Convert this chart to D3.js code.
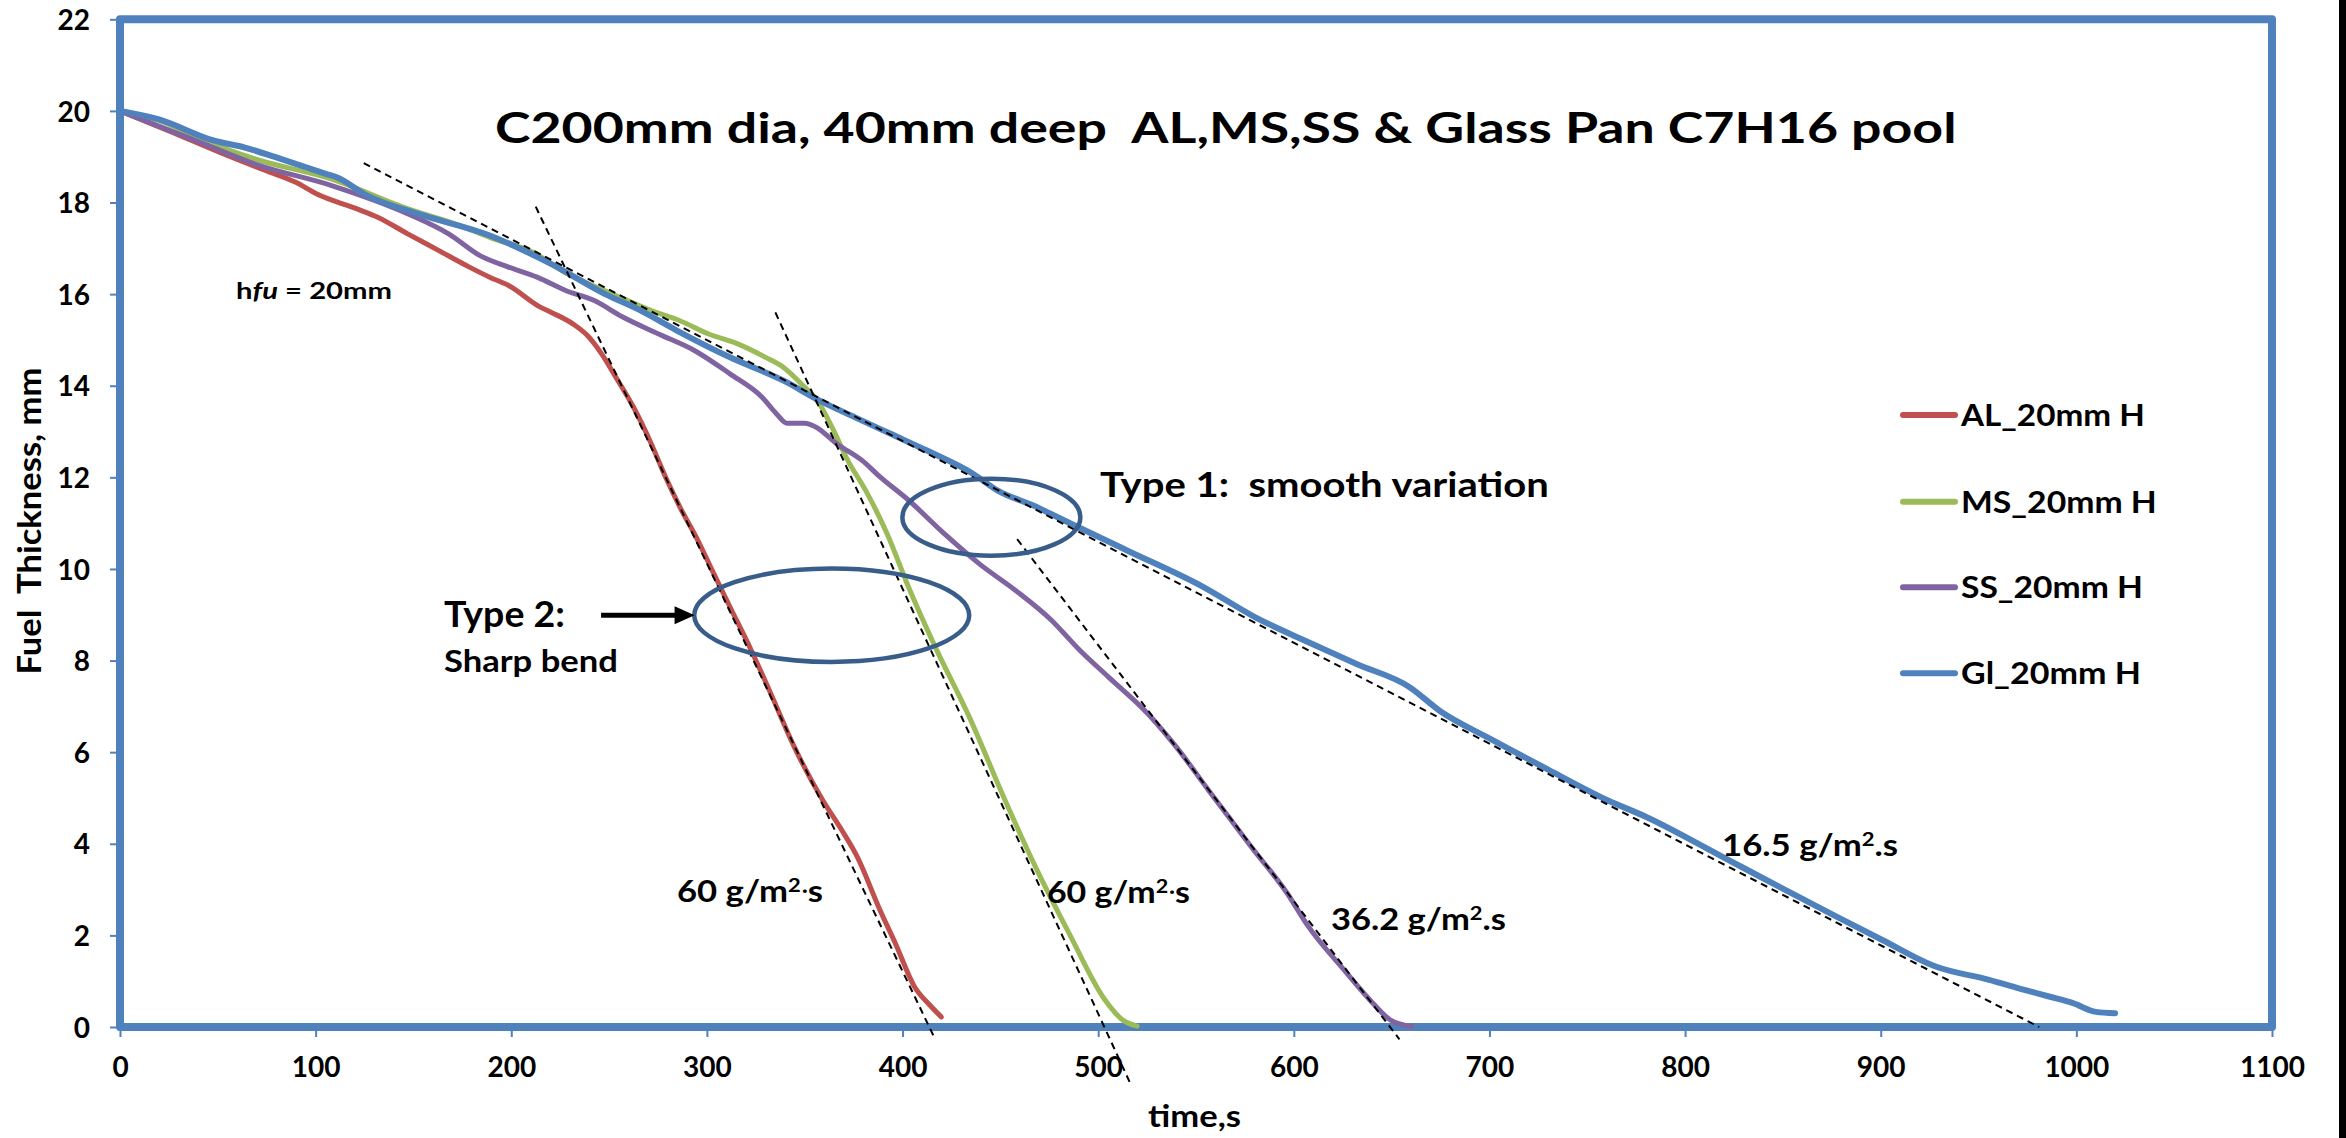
<!DOCTYPE html>
<html>
<head>
<meta charset="utf-8">
<script src="https://cdn.jsdelivr.net/npm/d3@7"></script>
<style>
  html, body { margin: 0; padding: 0; background: #fff; }
  svg { display: block; }
  text { font-family: Lato, "Open Sans", "Liberation Sans", sans-serif; font-weight: 700; fill: #000; }
</style>
</head>
<body>
<script>
// ---- axis ticks ----
const xTicks = [0, 100, 200, 300, 400, 500, 600, 700, 800, 900, 1000, 1100];
const yTicks = [0, 2, 4, 6, 8, 10, 12, 14, 16, 18, 20, 22];

// ---- burning curves: time (s) and fuel thickness (mm) ----
const alTime  = [0, 24.7, 50.8, 74.3, 89.9, 100.4, 121.2, 131.7, 147.3, 163, 178.6, 189, 198.6, 215.1, 220.5, 231.5, 238.8, 246.1, 253.4, 262.5, 271.6, 278.9, 286.2, 295.4, 302.7, 311.8, 322.7, 331.9, 344.7, 359.2, 368.9, 376.8, 388.5, 396.3, 406.1, 413.9, 419.8];
const alThick = [20, 19.57, 19.1, 18.7, 18.44, 18.19, 17.86, 17.68, 17.31, 16.95, 16.59, 16.37, 16.19, 15.71, 15.6, 15.35, 15.1, 14.7, 14.19, 13.53, 12.73, 12.0, 11.35, 10.62, 9.97, 9.17, 8.22, 7.35, 6.11, 4.95, 4.3, 3.72, 2.55, 1.83, 0.88, 0.48, 0.22];

const msTime  = [0, 19.5, 42.9, 69, 108.2, 147.3, 173.4, 189, 212.5, 226, 253.4, 271.6, 286.2, 300.9, 315.4, 330, 339.2, 348.3, 357.4, 364.8, 372, 381.2, 392.1, 403.1, 415.9, 434.1, 452.4, 468.8, 485.2, 503.5, 512.6, 519.9];
const msThick = [20, 19.8, 19.35, 18.95, 18.51, 17.86, 17.5, 17.24, 16.88, 16.51, 15.97, 15.64, 15.42, 15.13, 14.92, 14.62, 14.4, 14.04, 13.61, 13.02, 12.37, 11.71, 10.77, 9.6, 8.37, 6.77, 4.95, 3.42, 2.04, 0.59, 0.15, 0.02];

const ssTime  = [0, 42.9, 69, 108.2, 147.3, 168.2, 184, 198.6, 213.2, 227.8, 242.4, 257, 275.3, 293.6, 311.8, 328.2, 335.5, 341, 350.1, 355.6, 366.5, 379.3, 388.5, 403.1, 421.3, 439.6, 457.8, 476.1, 490.7, 505.3, 525.4, 540, 556.4, 578.3, 596.6, 607.5, 625.8, 640.4, 649.5, 660.4];
const ssThick = [20, 19.28, 18.84, 18.37, 17.75, 17.31, 16.84, 16.59, 16.37, 16.08, 15.86, 15.5, 15.13, 14.77, 14.26, 13.75, 13.39, 13.18, 13.18, 13.1, 12.73, 12.37, 12.01, 11.5, 10.77, 10.1, 9.53, 8.88, 8.22, 7.64, 6.84, 6.11, 5.17, 3.93, 2.92, 2.19, 1.24, 0.52, 0.15, 0.01];

const glTime  = [0, 19.5, 48.2, 63.8, 79.5, 95.1, 105.6, 110.8, 126.4, 152.5, 189, 220.3, 248, 266.2, 284.4, 311.8, 339.2, 357.4, 375.7, 393.9, 412.2, 436, 448.7, 468.8, 475.4, 514.5, 553.6, 580.1, 607.5, 631.8, 659.2, 674.7, 700, 730, 760.4, 779.9, 818.9, 838.4, 877.4, 900.8, 928.1, 955.4, 971, 986.5, 998.3, 1010, 1019.8];
const glThick = [20, 19.82, 19.35, 19.2, 18.99, 18.77, 18.62, 18.55, 18.15, 17.75, 17.28, 16.66, 16.0, 15.64, 15.21, 14.62, 14.11, 13.68, 13.31, 12.95, 12.59, 12.08, 11.71, 11.35, 11.21, 10.41, 9.61, 8.95, 8.4, 7.93, 7.42, 6.9, 6.3, 5.62, 4.95, 4.59, 3.72, 3.28, 2.41, 1.9, 1.32, 1.03, 0.84, 0.66, 0.52, 0.33, 0.3];

const seriesNames = ["AL_20mm H", "MS_20mm H", "SS_20mm H", "Gl_20mm H"];

// ---- dashed tangent lines [time, thickness] ----
const tangentStart = [[124.6, 18.86], [212.5, 17.91], [335, 15.6], [458.6, 10.65]];
const tangentEnd   = [[981, 0], [416.7, -0.27], [516.4, -1.23], [654, -0.27]];

// ---- burning-rate labels ----
const rateValues = ["60", "60", "36.2", "16.5"];
const rateSeps   = ["·", "·", ".", "."];

// ---- styling ----
const colors = ["#C0504D", "#9BBB59", "#8064A2", "#4F81BD"];
const frameBlue = "#4F81BD";
const shapeBlue = "#385D8A";

const W = 2346, H = 1138;
const svg = d3.select("body").append("svg").attr("width", W).attr("height", H);
svg.append("rect").attr("width", W).attr("height", H).attr("fill", "#fff");

const x = d3.scaleLinear().domain([0, 1100]).range([120, 2272]);
const y = d3.scaleLinear().domain([0, 22]).range([1027, 19.3]);

// stretch/squeeze a text horizontally about its left edge so it spans w pixels
function fitWidth(sel, x0, w) {
  const bw = sel.node().getBBox().width;
  const k = w / bw;
  sel.attr("transform", `translate(${x0},0) scale(${k},1) translate(${-x0},0)`);
  return sel;
}

// ---- axes ----
const xAxis = d3.axisBottom(x).tickValues(xTicks).tickSize(10).tickPadding(22).tickFormat(d3.format("d"));
const yAxis = d3.axisLeft(y).tickValues(yTicks).tickSize(10).tickPadding(20).tickFormat(d3.format("d"));

const gx = svg.append("g").attr("transform", `translate(0,${y(0)})`).call(xAxis);
const gy = svg.append("g").attr("transform", `translate(${x(0)},0)`).call(yAxis);
[gx, gy].forEach(g => {
  g.select(".domain").remove();
  g.selectAll(".tick line").attr("stroke", frameBlue).attr("stroke-width", 2);
  g.selectAll(".tick text").style("font-family", "Lato, sans-serif").style("font-weight", 700)
    .style("font-size", "28px").attr("fill", "#000");
});
gx.selectAll(".tick text").attr("dy", null).attr("y", 50);
gy.selectAll(".tick text").attr("dy", "0.36em");

// plot frame
svg.append("rect")
  .attr("x", x(0)).attr("y", y(22))
  .attr("width", x(1100) - x(0)).attr("height", y(0) - y(22))
  .attr("fill", "none").attr("stroke", frameBlue).attr("stroke-width", 8)
  .attr("stroke-linejoin", "round");

// ---- series ----
const series = [
  { name: seriesNames[0], t: alTime, h: alThick },
  { name: seriesNames[1], t: msTime, h: msThick },
  { name: seriesNames[2], t: ssTime, h: ssThick },
  { name: seriesNames[3], t: glTime, h: glThick }
];
const line = d3.line().x(d => x(d[0])).y(d => y(d[1])).curve(d3.curveMonotoneX);
series.forEach((s, i) => {
  svg.append("path")
    .datum(s.t.map((t, j) => [t, s.h[j]]))
    .attr("d", line)
    .attr("fill", "none")
    .attr("stroke", colors[i])
    .attr("stroke-width", i === 3 ? 6 : 5)
    .attr("stroke-linecap", "round")
    .attr("stroke-linejoin", "round");
});

// ---- dashed tangent lines ----
tangentStart.forEach((p, i) => {
  const q = tangentEnd[i];
  svg.append("line")
    .attr("x1", x(p[0])).attr("y1", y(p[1]))
    .attr("x2", x(q[0])).attr("y2", y(q[1]))
    .attr("stroke", "#000").attr("stroke-width", 2)
    .attr("stroke-dasharray", "7,5");
});

// ---- ellipses marking the two behaviours ----
svg.append("ellipse")
  .attr("cx", x(445.4)).attr("cy", y(11.13)).attr("rx", 89).attr("ry", 38.5)
  .attr("fill", "none").attr("stroke", shapeBlue).attr("stroke-width", 4.5);
svg.append("ellipse")
  .attr("cx", x(363.8)).attr("cy", y(8.99)).attr("rx", 137.5).attr("ry", 46.7)
  .attr("fill", "none").attr("stroke", shapeBlue).attr("stroke-width", 4.5);

// arrow pointing at the sharp-bend ellipse
const ay = y(8.99), ax0 = x(245.9), ax1 = x(293.7);
svg.append("line").attr("x1", ax0).attr("y1", ay).attr("x2", ax1 - 16).attr("y2", ay)
  .attr("stroke", "#000").attr("stroke-width", 5);
svg.append("path")
  .attr("d", `M${ax1},${ay} L${ax1 - 20},${ay - 9} L${ax1 - 20},${ay + 9} Z`)
  .attr("fill", "#000");

// ---- title ----
const title = svg.append("text")
  .attr("x", 495).attr("y", 143)
  .style("font-size", "42px").style("white-space", "pre")
  .text("C200mm dia, 40mm deep  AL,MS,SS & Glass Pan C7H16 pool");
fitWidth(title, 495, 1462);

// ---- axis titles ----
const xt = svg.append("text").attr("x", 1148).attr("y", 1127).style("font-size", "30px").text("time,s");
fitWidth(xt, 1148, 93);

const yg = svg.append("g").attr("transform", "translate(41,521) rotate(-90)");
const yt = yg.append("text").attr("x", -153.5).attr("y", 0)
  .style("font-size", "32px").style("white-space", "pre").text("Fuel  Thickness, mm");
fitWidth(yt, -153.5, 307);

// ---- legend ----
const legendY = [415, 501.7, 587.3, 673.3];
const legendW = [185, 196, 182, 180];
series.forEach((s, i) => {
  svg.append("line")
    .attr("x1", 1903).attr("x2", 1955)
    .attr("y1", legendY[i]).attr("y2", legendY[i])
    .attr("stroke", colors[i]).attr("stroke-width", 6).attr("stroke-linecap", "round");
  const t = svg.append("text").attr("x", 1961).attr("y", legendY[i] + 11)
    .style("font-size", "31px").text(s.name);
  fitWidth(t, 1961, legendW[i]);
});

// ---- annotations ----
const hfu = svg.append("text").attr("x", x(59.3)).attr("y", y(15.9)).style("font-size", "22px");
hfu.append("tspan").text("h");
hfu.append("tspan").style("font-style", "italic").text("fu");
hfu.append("tspan").style("white-space", "pre").text(" = 20mm");
fitWidth(hfu, x(59.3), 156);

const t1 = svg.append("text").attr("x", x(500.9)).attr("y", y(11.56))
  .style("font-size", "35px").style("white-space", "pre").text("Type 1:  smooth variation");
fitWidth(t1, x(500.9), 449);

const t2 = svg.append("text").attr("x", x(165.6)).attr("y", y(8.73))
  .style("font-size", "37px").text("Type 2:");
fitWidth(t2, x(165.6), 121);

const t3 = svg.append("text").attr("x", x(165.6)).attr("y", y(7.74))
  .style("font-size", "30px").text("Sharp bend");
fitWidth(t3, x(165.6), 174);

// burning-rate labels next to each tangent
const ratePos = [[284.7, 2.73], [473.8, 2.71], [619, 2.12], [818.9, 3.73]];
const rateW = [146, 143, 175, 176];
rateValues.forEach((v, i) => {
  const px = x(ratePos[i][0]);
  const t = svg.append("text").attr("x", px).attr("y", y(ratePos[i][1])).style("font-size", "30px");
  t.append("tspan").text(v + " g/m");
  t.append("tspan").attr("dy", -10).style("font-size", "19px").text("2");
  if (rateSeps[i] === "·") {
    // small raised dot between the unit parts
    t.append("tspan").attr("dy", 5).style("font-size", "18px").attr("dx", 1).text("·");
    t.append("tspan").attr("dy", 5).text("s");
  } else {
    t.append("tspan").attr("dy", 10).text(rateSeps[i] + "s");
  }
  fitWidth(t, px, rateW[i]);
});

// dark edge on the right border
svg.append("rect").attr("x", 2339).attr("y", 0).attr("width", 7).attr("height", H).attr("fill", "#000");
</script>
</body>
</html>
